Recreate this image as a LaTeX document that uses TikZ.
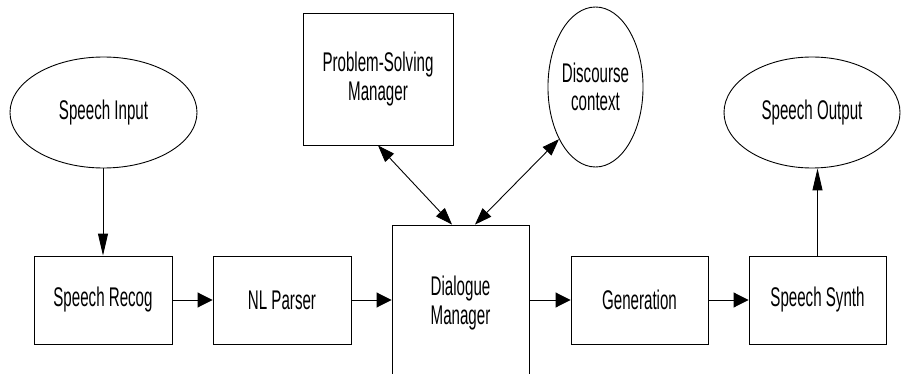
\documentclass[tikz,border=0pt]{standalone}
\usepackage{fontspec}
\setmainfont[FakeStretch=0.56]{Liberation Sans}
\usetikzlibrary{arrows.meta,shapes.geometric,calc}
\begin{document}
\begin{tikzpicture}[x=1pt,y=-1pt,
  every node/.style={font=\fontsize{27}{28.5}\selectfont, align=center, inner sep=0pt},
  box/.style={draw, line width=0.9pt, rectangle, minimum width=138pt, minimum height=88pt},
  oval/.style={draw, line width=0.9pt, ellipse},
  link/.style={line width=0.9pt},
  hx/.style={-{Triangle[length=15pt,width=15pt]}},
  vx/.style={-{Triangle[length=22pt,width=10pt]}},
  dx/.style={{Triangle[length=17pt,width=12pt]}-{Triangle[length=17pt,width=12pt]}}]
\clip (0,0) rectangle (902,374);
\useasboundingbox (0,0) rectangle (902,374);
\node[oval, minimum width=187pt, minimum height=111pt] (si) at (103.5,112.5) {Speech Input};
\node[oval, minimum width=176pt, minimum height=111pt] (so) at (812,112.5) {Speech Output};
\node[oval, minimum width=93pt, minimum height=160pt] (dc) at (595.5,87) {Discourse\\context};
\node[box, minimum width=150pt, minimum height=132pt] (psm) at (378,79) {Problem-Solving\\Manager};
\node[box] (sr) at (103,300) {Speech Recog};
\node[box] (nl) at (282,300) {NL Parser};
\node[box, minimum width=137pt, minimum height=156pt] (dm) at (460.5,303) {Dialogue\\Manager};
\node[box, minimum width=137pt] (gen) at (639.5,300) {Generation};
\node[box, minimum width=137pt] (ss) at (817.5,300) {Speech Synth};
\draw[link,vx] (si.south -| sr.north) -- (sr.north);
\draw[link,hx] (sr) -- (nl);
\draw[link,hx] (nl.east) -- (nl.east -| dm.west);
\draw[link,hx] (gen.west -| dm.east) -- (gen.west);
\draw[link,hx] (gen) -- (ss);
\draw[link,vx] (ss.north) -- (ss.north |- so.south);
\coordinate (dmA) at ($(dm.north)+(-8.5,0)$);
\coordinate (dmB) at ($(dm.north)+(14.5,0)$);
\draw[link,dx] (psm.south) -- (dmA);
\draw[link,dx] (dc.235) -- (dmB);
\end{tikzpicture}
\end{document}
